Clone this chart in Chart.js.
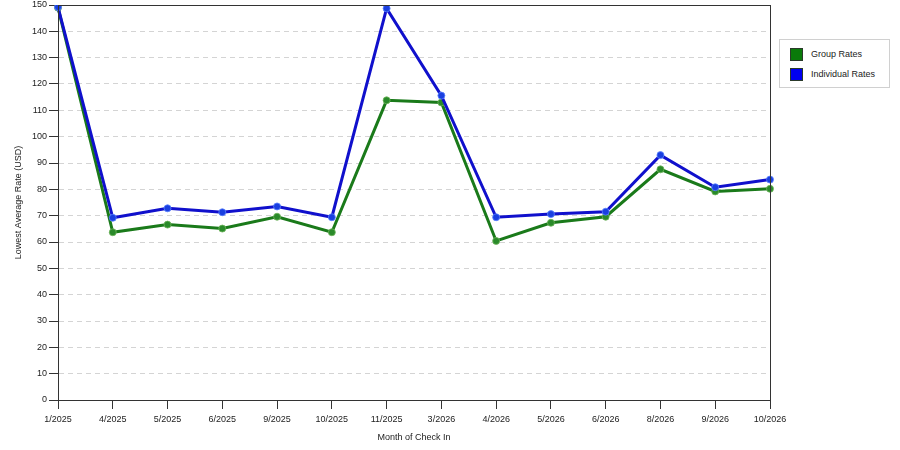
<!DOCTYPE html>
<html>
<head>
<meta charset="utf-8">
<script src="https://cdn.jsdelivr.net/npm/chart.js@4/dist/chart.umd.min.js"></script>
<style>
  html, body { margin: 0; padding: 0; background: #fff; }
  #wrap { position: relative; width: 900px; height: 450px; }
  #legend {
    position: absolute; left: 779px; top: 39px; width: 109px; height: 47px;
    border: 1px solid #d0d0d0; background: #fff;
    font-family: "Liberation Sans", Arial, sans-serif; font-size: 9px; color: #222;
  }
  #legend .item { position: absolute; left: 10px; height: 13px; line-height: 13px; }
  #legend .sw { position: absolute; left: 0; top: 0; width: 13px; height: 13px; box-sizing: border-box; border: 1px solid #2a3a2a; }
  #legend .lbl { position: absolute; left: 21px; top: 0; white-space: nowrap; }
</style>
</head>
<body>
<div id="wrap">
  <canvas id="chart" width="900" height="450"></canvas>
  <div id="legend">
    <div class="item" style="top:8px"><span class="sw" style="background:#0a7a0a"></span><span class="lbl">Group Rates</span></div>
    <div class="item" style="top:28px"><span class="sw" style="background:#0000f0"></span><span class="lbl">Individual Rates</span></div>
  </div>
</div>
<script>
// Dados
const months = ['1/2025', '4/2025', '5/2025', '6/2025', '9/2025', '10/2025', '11/2025',
  '3/2026', '4/2026', '5/2026', '6/2026', '8/2026', '9/2026', '10/2026'];
const groupRates = [149, 63.7, 66.6, 65.1, 69.6, 63.7, 113.8, 113.0, 60.4, 67.3, 69.6, 87.6, 79.2, 80.2];
const individualRates = [149.2, 69.2, 72.8, 71.3, 73.5, 69.4, 148.7, 115.6, 69.4, 70.6, 71.5, 93.0, 80.8, 83.7];
const yTicks = [0, 10, 20, 30, 40, 50, 60, 70, 80, 90, 100, 110, 120, 130, 140, 150];

const font = { family: 'Liberation Sans', size: 9 };

// Moldura em volta da área do gráfico
const frame = {
  id: 'frame',
  afterDraw(chart) {
    const { ctx, chartArea: a } = chart;
    ctx.save();
    ctx.strokeStyle = '#333';
    ctx.lineWidth = 1;
    ctx.strokeRect(a.left + 0.5, a.top + 0.5, a.right - a.left, a.bottom - a.top);
    ctx.restore();
  }
};

new Chart(document.getElementById('chart'), {
  type: 'line',
  data: {
    labels: months,
    datasets: [
      {
        label: 'Individual Rates', data: individualRates,
        borderColor: '#1010cc', borderWidth: 3,
        pointRadius: 3.5, pointBackgroundColor: '#1a3fe0', pointBorderColor: 'rgba(90,130,255,0.8)', pointBorderWidth: 1,
        tension: 0
      },
      {
        label: 'Group Rates', data: groupRates,
        borderColor: '#1a7a1a', borderWidth: 3,
        pointRadius: 3.5, pointBackgroundColor: '#2a8a2a', pointBorderColor: 'rgba(110,180,90,0.8)', pointBorderWidth: 1,
        tension: 0
      }
    ]
  },
  options: {
    responsive: false,
    animation: false,
    layout: { padding: { left: 8, right: 130, top: 5, bottom: 0 } },
    plugins: { legend: { display: false }, tooltip: { enabled: false } },
    scales: {
      x: {
        offset: false,
        grid: { drawOnChartArea: false, drawTicks: true, tickLength: 9, tickColor: '#333', color: '#333' },
        border: { color: '#333' },
        ticks: { font, color: '#222', padding: 5, maxRotation: 0, autoSkip: false },
        title: { display: true, text: 'Month of Check In', font, color: '#222', padding: { top: 4, bottom: 7 } },
        afterFit(scale) { scale.height = 50; }
      },
      y: {
        min: 0, max: 150,
        afterBuildTicks(scale) { scale.ticks = yTicks.map(v => ({ value: v })); },
        grid: { color: '#d4d4d4', tickColor: '#333', tickLength: 9, tickBorderDash: [] },
        border: { color: '#333', dash: [5, 4] },
        ticks: { font, color: '#222', padding: 2 },
        title: { display: true, text: 'Lowest Average Rate (USD)', font, color: '#222', padding: { top: 5, bottom: 0 } },
        afterFit(scale) { scale.width = 50; scale.paddingTop = 0; scale.paddingBottom = 0; }
      }
    }
  },
  plugins: [frame]
});
</script>
</body>
</html>
